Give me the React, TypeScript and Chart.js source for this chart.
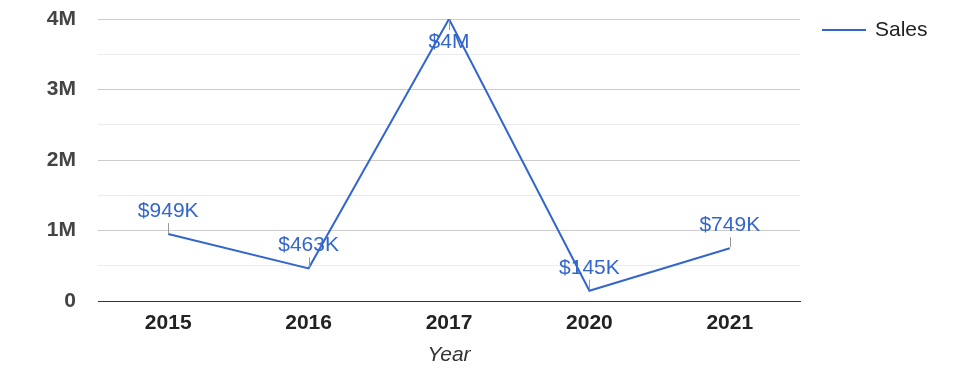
import React, { useEffect, useRef } from "react";
import { Chart, registerables } from "chart.js";

Chart.register(...registerables);

const years = ["2015", "2016", "2017", "2020", "2021"];
const sales = [949000, 463000, 4000000, 145000, 749000];
const seriesName = "Sales";
const axisTitle = "Year";

const LINE_COLOR = "#3366cc";
const FONT = "'Liberation Sans', Arial, sans-serif";

function fmtMoney(v: number): string {
  if (v >= 1e6) return "$" + Math.round(v / 1e6) + "M";
  return "$" + Math.round(v / 1e3) + "K";
}

const annotationPlugin = {
  id: "annotations",
  afterDatasetsDraw(chart: any) {
    const ctx = chart.ctx;
    const meta = chart.getDatasetMeta(0);
    const area = chart.chartArea;
    const data = chart.data.datasets[0].data as number[];
    ctx.save();
    ctx.font = `21px ${FONT}`;
    ctx.textAlign = "center";
    ctx.textBaseline = "middle";
    meta.data.forEach((pt: any, i: number) => {
      const below = pt.y - 35 < area.top;
      const dir = below ? 1 : -1;
      ctx.strokeStyle = "#999999";
      ctx.lineWidth = 1;
      ctx.beginPath();
      ctx.moveTo(Math.round(pt.x) + 0.5, pt.y + dir * 1);
      ctx.lineTo(Math.round(pt.x) + 0.5, pt.y + dir * 11);
      ctx.stroke();
      ctx.fillStyle = LINE_COLOR;
      ctx.fillText(fmtMoney(data[i]), pt.x, pt.y + dir * 23);
    });
    ctx.restore();
  },
};

const legendPlugin = {
  id: "customLegend",
  afterDraw(chart: any) {
    const ctx = chart.ctx;
    ctx.save();
    ctx.strokeStyle = LINE_COLOR;
    ctx.lineWidth = 2;
    ctx.beginPath();
    ctx.moveTo(822, 30);
    ctx.lineTo(866, 30);
    ctx.stroke();
    ctx.fillStyle = "#222222";
    ctx.font = `21px ${FONT}`;
    ctx.textAlign = "left";
    ctx.textBaseline = "middle";
    ctx.fillText(seriesName, 875, 30);
    ctx.restore();
  },
};

export default function App() {
  const ref = useRef<HTMLCanvasElement | null>(null);
  useEffect(() => {
    if (!ref.current) return;
    const chart = new Chart(ref.current, {
      type: "line",
      data: {
        labels: years,
        datasets: [
          {
            label: seriesName,
            data: sales,
            borderColor: LINE_COLOR,
            backgroundColor: LINE_COLOR,
            borderWidth: 2,
            pointRadius: 0,
            tension: 0,
          },
        ],
      },
      options: {
        animation: false,
        responsive: false,
        devicePixelRatio: 1,
        layout: { padding: { left: 0, right: 175, top: 19, bottom: 0 } },
        plugins: {
          legend: { display: false },
          tooltip: { enabled: false },
        },
        scales: {
          x: {
            type: "category",
            offset: true,
            grid: { display: false, drawTicks: false },
            border: { display: true, color: "#333333", width: 1 },
            ticks: {
              padding: 10,
              color: "#222222",
              font: { family: FONT, size: 21, weight: "bold" },
            },
            title: {
              display: true,
              text: axisTitle,
              color: "#333333",
              font: { family: FONT, size: 21, style: "italic" },
              padding: { top: 0, bottom: 10 },
            },
            afterFit: (scale: any) => {
              scale.height = 77;
              scale.paddingLeft = 0;
              scale.paddingRight = 0;
            },
          },
          y: {
            min: 0,
            max: 4000000,
            border: { display: false },
            grid: {
              drawTicks: false,
              color: (c: any) =>
                c.tick && c.tick.value === 0
                  ? "#333333"
                  : c.tick && c.tick.value % 1000000 === 0
                  ? "#cccccc"
                  : "#ebebeb",
            },
            ticks: {
              stepSize: 500000,
              padding: 22,
              color: "#444444",
              font: { family: FONT, size: 21, weight: "bold" },
              callback: (v: any) => {
                const n = Number(v);
                if (n % 1000000 !== 0) return "";
                return n === 0 ? "0" : n / 1000000 + "M";
              },
            },
            afterFit: (scale: any) => {
              scale.width = 98;
              scale.paddingTop = 0;
              scale.paddingBottom = 0;
            },
          },
        },
      },
      plugins: [annotationPlugin, legendPlugin],
    });
    return () => chart.destroy();
  }, []);
  return (
    <div style={{ position: "absolute", left: 0, top: 0, width: 975, height: 378, background: "#fff" }}>
      <canvas ref={ref} width={975} height={378} style={{ width: 975, height: 378 }} />
    </div>
  );
}
